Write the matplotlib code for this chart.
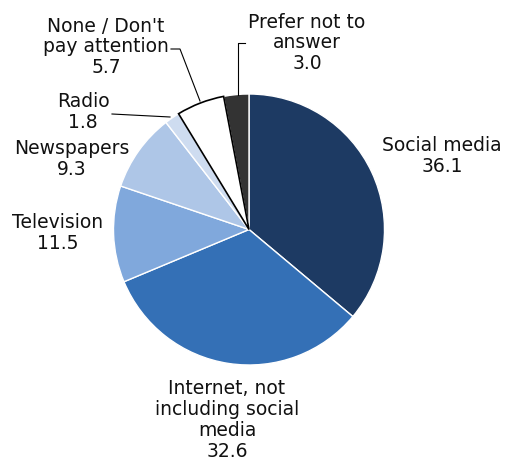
import matplotlib
matplotlib.use("Agg")
import matplotlib.pyplot as plt

labels = ["Social media", "Internet, not\nincluding social\nmedia", "Television",
          "Newspapers", "Radio", "None / Don't\npay attention", "Prefer not to\nanswer"]
values = [36.1, 32.6, 11.5, 9.3, 1.8, 5.7, 3.0]
colors = ["#1d3a63", "#3470b6", "#80a8dc", "#aec6e7", "#cedcf0", "#ffffff", "#333333"]

W, H = 507, 471
fig = plt.figure(figsize=(W / 100, H / 100), dpi=100)
ax = fig.add_axes([0, 0, 1, 1])

cx, cy, r = 249, H - 229.5, 135.5
wedges, _ = ax.pie(values, colors=colors, startangle=90, counterclock=False,
                   center=(cx, cy), radius=r, frame=True,
                   wedgeprops=dict(edgecolor="white", linewidth=1))
wedges[5].set_edgecolor("black")
wedges[5].set_linewidth(1.2)
wedges[5].set_zorder(3)
ax.set_xlim(0, W)
ax.set_ylim(0, H)
ax.set_aspect("equal")
ax.axis("off")

# label centres (x, y from top)
pos = [(442, 156), (227, 420), (58, 233), (72, 159), (83, 112), (106, 47), (307, 43)]
for lab, v, (px, py) in zip(labels, values, pos):
    ax.text(px, H - py, f"{lab}\n{v:.1f}", ha="center", va="center",
            fontsize=13.5, linespacing=1.13, color="#111111")

# leader lines
ax.plot([112, 170], [H - 114, H - 117], color="black", lw=0.8)
ax.plot([171, 180, 200], [H - 49, H - 49, H - 101], color="black", lw=0.8)
ax.plot([245, 238, 238], [H - 43, H - 43, H - 95], color="black", lw=0.8)

fig.savefig("out.png", dpi=100)
